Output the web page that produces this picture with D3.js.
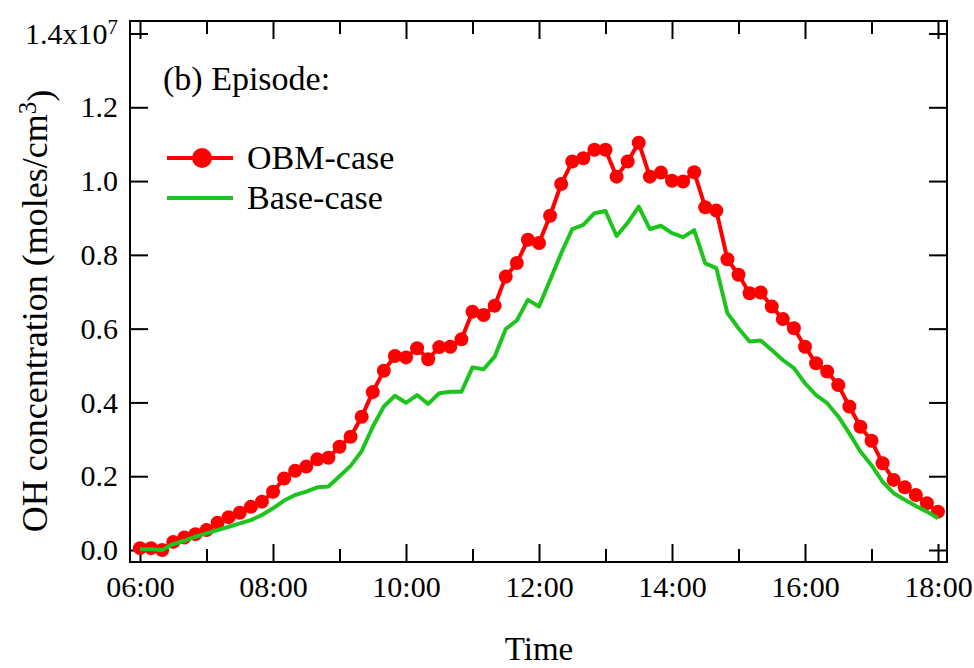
<!DOCTYPE html>
<html>
<head>
<meta charset="utf-8">
<script src="https://cdn.jsdelivr.net/npm/d3@7"></script>
<style>
body { margin: 0; background: #fff; }
svg text { font-family: "Liberation Serif", "Times New Roman", serif; fill: #000; }
</style>
</head>
<body>
<svg width="974" height="668"></svg>
<script>
// 10-minute steps, 06:00 - 18:00
var times = ["06:00","06:10","06:20","06:30","06:40","06:50","07:00","07:10","07:20","07:30","07:40","07:50",
  "08:00","08:10","08:20","08:30","08:40","08:50","09:00","09:10","09:20","09:30","09:40","09:50",
  "10:00","10:10","10:20","10:30","10:40","10:50","11:00","11:10","11:20","11:30","11:40","11:50",
  "12:00","12:10","12:20","12:30","12:40","12:50","13:00","13:10","13:20","13:30","13:40","13:50",
  "14:00","14:10","14:20","14:30","14:40","14:50","15:00","15:10","15:20","15:30","15:40","15:50",
  "16:00","16:10","16:20","16:30","16:40","16:50","17:00","17:10","17:20","17:30","17:40","17:50","18:00"];

// OH concentration, units of 1e7 moles/cm3
var obmCase = [0.005,0.005,0.000,0.022,0.034,0.043,0.054,0.074,0.089,0.101,0.117,0.131,
  0.158,0.194,0.215,0.226,0.246,0.250,0.280,0.307,0.361,0.428,0.486,0.526,
  0.522,0.547,0.517,0.550,0.551,0.571,0.646,0.637,0.662,0.741,0.778,0.841,
  0.832,0.906,0.992,1.053,1.062,1.085,1.085,1.012,1.053,1.104,1.012,1.023,
  1.001,0.999,1.024,0.929,0.920,0.788,0.746,0.696,0.698,0.660,0.626,0.601,
  0.551,0.506,0.484,0.447,0.389,0.334,0.296,0.235,0.190,0.170,0.149,0.127,0.104];

var baseCase = [0.002,0.002,0.000,0.016,0.025,0.036,0.045,0.054,0.063,0.072,0.081,0.095,
  0.113,0.134,0.149,0.158,0.170,0.172,0.200,0.228,0.268,0.334,0.389,0.418,
  0.399,0.420,0.396,0.425,0.429,0.429,0.495,0.490,0.524,0.599,0.622,0.678,
  0.660,0.732,0.804,0.870,0.881,0.913,0.919,0.851,0.887,0.931,0.870,0.879,
  0.859,0.848,0.867,0.777,0.764,0.642,0.601,0.565,0.568,0.542,0.515,0.493,
  0.452,0.420,0.398,0.362,0.316,0.267,0.230,0.185,0.154,0.136,0.119,0.104,0.086];

var yTicks = [0, 0.2, 0.4, 0.6, 0.8, 1.0, 1.2, 1.4];
var seriesNames = ["OBM-case", "Base-case"];
var seriesColors = ["#ff0000", "#1ec41e"];

var svg = d3.select("svg");
var parse = d3.timeParse("%H:%M");

var x = d3.scaleTime()
    .domain([parse("06:00"), parse("18:00")])
    .range([140, 938]);
var y = d3.scaleLinear()
    .domain([0, 1.4])
    .range([550, 33.5]);

// frame edges (a little outside the scale ranges)
var frameL = 130, frameR = 947, frameT = 21, frameB = 562;

function styleAxis(g) {
  g.select(".domain").remove();
  g.selectAll(".tick line").attr("stroke", "#000").attr("stroke-width", 2);
  g.selectAll(".tick text")
    .attr("font-family", "Liberation Serif, Times New Roman, serif")
    .attr("font-size", 30);
}

var hourTicks = d3.timeHour.every(1);
var isOdd = function(d) { return d.getHours() % 2 === 1; };

// bottom
svg.append("g")
    .attr("transform", "translate(0," + frameB + ")")
    .call(d3.axisBottom(x).ticks(hourTicks).tickSizeInner(-18).tickSizeOuter(0).tickPadding(14)
      .tickFormat(function(d) { return isOdd(d) ? "" : d3.timeFormat("%H:%M")(d); }))
    .call(styleAxis)
    .selectAll(".tick line").attr("y2", function(d) { return isOdd(d) ? -13 : -18; });

// top
svg.append("g")
    .attr("transform", "translate(0," + frameT + ")")
    .call(d3.axisTop(x).ticks(hourTicks).tickSizeInner(-18).tickSizeOuter(0).tickFormat(""))
    .call(styleAxis)
    .selectAll(".tick line").attr("y2", function(d) { return isOdd(d) ? 13 : 18; });

// left
var yAxis = svg.append("g")
    .attr("transform", "translate(" + frameL + ",0)")
    .call(d3.axisLeft(y).tickValues(yTicks).tickSizeInner(-18).tickSizeOuter(0).tickPadding(12)
      .tickFormat(d3.format(".1f")))
    .call(styleAxis);

yAxis.selectAll(".tick text")
    .filter(function(d) { return d === 1.4; })
    .text("1.4x10")
    .append("tspan")
    .attr("dy", "-0.45em")
    .attr("font-size", 21)
    .text("7");

// right
svg.append("g")
    .attr("transform", "translate(" + frameR + ",0)")
    .call(d3.axisRight(y).tickValues(yTicks).tickSizeInner(-18).tickSizeOuter(0).tickFormat(""))
    .call(styleAxis);

// frame
svg.append("rect")
    .attr("x", frameL).attr("y", frameT)
    .attr("width", frameR - frameL).attr("height", frameB - frameT)
    .attr("fill", "none").attr("stroke", "#000").attr("stroke-width", 2);

var line = d3.line()
    .x(function(d, i) { return x(parse(times[i])); })
    .y(function(d) { return y(d); });

// OBM-case
svg.append("path")
    .datum(obmCase)
    .attr("fill", "none")
    .attr("stroke", seriesColors[0])
    .attr("stroke-width", 4)
    .attr("stroke-linejoin", "round")
    .attr("d", line);

svg.append("g").selectAll("circle")
    .data(obmCase)
    .enter().append("circle")
    .attr("cx", function(d, i) { return x(parse(times[i])); })
    .attr("cy", function(d) { return y(d); })
    .attr("r", 7)
    .attr("fill", seriesColors[0]);

// Base-case
svg.append("path")
    .datum(baseCase)
    .attr("fill", "none")
    .attr("stroke", seriesColors[1])
    .attr("stroke-width", 4)
    .attr("stroke-linejoin", "round")
    .attr("d", line);

// legend
svg.append("text")
    .attr("x", 163).attr("y", 90)
    .attr("font-size", 34)
    .text("(b) Episode:");

var legend = svg.append("g").selectAll("g")
    .data(seriesNames)
    .enter().append("g")
    .attr("transform", function(d, i) { return "translate(167," + (158 + i * 40) + ")"; });

legend.append("line")
    .attr("x1", 0).attr("x2", 66)
    .attr("stroke", function(d, i) { return seriesColors[i]; })
    .attr("stroke-width", 4);

legend.filter(function(d, i) { return i === 0; })
    .append("circle")
    .attr("cx", 35).attr("r", 10)
    .attr("fill", seriesColors[0]);

legend.append("text")
    .attr("x", 80).attr("y", 11)
    .attr("font-size", 34)
    .text(function(d) { return d; });

// axis titles
svg.append("text")
    .attr("x", (x.range()[0] + x.range()[1]) / 2)
    .attr("y", 660)
    .attr("text-anchor", "middle")
    .attr("font-size", 33)
    .text("Time");

var yTitle = svg.append("text")
    .attr("transform", "translate(47,311) rotate(-90)")
    .attr("text-anchor", "middle")
    .attr("font-size", 36)
    .text("OH concentration (moles/cm");
yTitle.append("tspan").attr("dy", "-0.45em").attr("font-size", 25).text("3");
yTitle.append("tspan").attr("dy", "0.45em").text(")");
</script>
</body>
</html>
